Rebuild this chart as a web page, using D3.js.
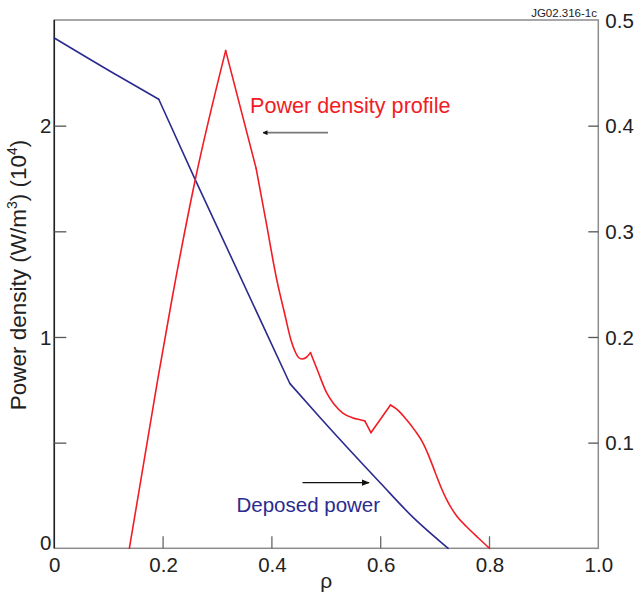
<!DOCTYPE html>
<html lang="en">
<head>
  <meta charset="UTF-8">
  <script src="https://cdn.jsdelivr.net/npm/d3@7"></script>
  <title>Power density profile</title>
  <style>
    body { margin: 0; background: #fff; }
    text { font-family: "Liberation Sans", Arial, Helvetica, sans-serif; }
  </style>
</head>
<body>
  <svg width="637" height="606" id="chart"></svg>
  <script>
    // red curve: power density profile (left axis, 10^4 W/m3)
    let rhoRed = [0.138, 0.190, 0.216, 0.259, 0.315, 0.371, 0.389, 0.409, 0.424, 0.435, 0.443, 0.449, 0.455, 0.463, 0.471,
      0.485, 0.501, 0.514, 0.531, 0.549, 0.568, 0.571, 0.582, 0.618, 0.632, 0.648, 0.663, 0.678, 0.688, 0.700, 0.711, 0.721,
      0.730, 0.740, 0.758, 0.779, 0.800];
    let densityRed = [0, 0.797, 1.175, 1.743, 2.355, 1.798, 1.549, 1.270, 1.104, 0.986, 0.929, 0.903, 0.896, 0.903, 0.926,
      0.834, 0.734, 0.683, 0.639, 0.617, 0.605, 0.602, 0.547, 0.678, 0.653, 0.607, 0.557, 0.497, 0.440, 0.360, 0.288, 0.232,
      0.190, 0.152, 0.102, 0.050, 0];
    // sharp corners of the red curve
    let redCorners = [0.315, 0.371, 0.471, 0.571, 0.582, 0.618];

    // blue curve: deposed power (right axis)
    let rhoBlue = [0, 0.121, 0.192, 0.259, 0.433, 0.488, 0.599, 0.660, 0.724];
    let powerBlue = [0.483, 0.446, 0.425, 0.349, 0.156, 0.124, 0.062, 0.029, 0];
    let blueCorners = [0.192, 0.433];

    let xTicks = [0, 0.2, 0.4, 0.6, 0.8, 1.0];
    let leftTicks = [0, 0.5, 1, 1.5, 2];
    let leftLabels = [0, 1, 2];
    let rightTicks = [0.1, 0.2, 0.3, 0.4, 0.5];

    let svg = d3.select("#chart");
    let mLeft = 54.3, mRight = 598.3, mTop = 20, mBottom = 548.3;

    let scaleX = d3.scaleLinear().domain([0, 1]).range([mLeft, mRight]);
    let scaleY = d3.scaleLinear().domain([0, 2.5]).range([mBottom, mTop]);
    let scaleY2 = d3.scaleLinear().domain([0, 0.5]).range([mBottom, mTop]);

    /* FRAME */
    svg.append("rect")
      .attr("x", mLeft).attr("y", mTop)
      .attr("width", mRight - mLeft).attr("height", mBottom - mTop)
      .attr("fill", "none").attr("stroke", "#8c8c8c").attr("stroke-width", 1.5)
    svg.append("line")
      .attr("x1", mLeft).attr("x2", mLeft).attr("y1", mTop).attr("y2", mBottom)
      .attr("stroke", "#222").attr("stroke-width", 1.5)

    /* AXES */
    let axisB = d3.axisBottom(scaleX).tickValues(xTicks).tickSize(0).tickPadding(10)
      .tickFormat(d => d === 0 ? "0" : d3.format(".1f")(d))
    let gB = svg.append("g").attr("transform", `translate(0,${mBottom})`).call(axisB)
    gB.select(".domain").remove()
    gB.selectAll("text").attr("font-size", 20.5).attr("fill", "#222").attr("y", 9).attr("dy", "0.71em")

    // inward tick marks on the bottom
    svg.selectAll(".xtick").data(xTicks.filter(d => d > 0 && d < 1)).enter()
      .append("line")
      .attr("x1", d => scaleX(d)).attr("x2", d => scaleX(d))
      .attr("y1", mBottom).attr("y2", mBottom - 12)
      .attr("stroke", "#666").attr("stroke-width", 1.3)

    let axisL = d3.axisLeft(scaleY).tickValues(leftTicks).tickSize(-12).tickPadding(15)
      .tickFormat(d => leftLabels.includes(d) ? d : "")
    let gL = svg.append("g").attr("transform", `translate(${mLeft},0)`).call(axisL)
    gL.select(".domain").remove()
    gL.selectAll(".tick line").attr("stroke", "#555").attr("stroke-width", 1.3)
      .filter(d => d === 0).remove()
    gL.selectAll("text").attr("font-size", 20.5).attr("fill", "#222").attr("x", -3)
      .attr("dy", d => d === 0 ? "0.05em" : "0.35em")

    let axisR = d3.axisRight(scaleY2).tickValues(rightTicks).tickSize(-10).tickPadding(8)
      .tickFormat(d3.format(".1f"))
    let gR = svg.append("g").attr("transform", `translate(${mRight},0)`).call(axisR)
    gR.select(".domain").remove()
    gR.selectAll(".tick line").attr("stroke", "#555").attr("stroke-width", 1.3)
      .filter(d => d === 0.5).remove()
    gR.selectAll("text").attr("font-size", 20.5).attr("fill", "#222").attr("x", 7).attr("dy", "0.35em")

    /* LABELS */
    svg.append("text")
      .attr("x", (mLeft + mRight) / 2).attr("y", 588)
      .attr("text-anchor", "middle").attr("font-size", 21).attr("fill", "#222")
      .text("ρ")

    let yLab = svg.append("text")
      .attr("transform", "translate(26,275) rotate(-90)")
      .attr("text-anchor", "middle").attr("font-size", 22.5).attr("fill", "#222")
    yLab.append("tspan").text("Power density (W/m")
    yLab.append("tspan").text("3").attr("font-size", 14).attr("dy", -9)
    yLab.append("tspan").text(") (10").attr("dy", 9)
    yLab.append("tspan").text("4").attr("font-size", 14).attr("dy", -9)
    yLab.append("tspan").text(")").attr("dy", 9)

    svg.append("text")
      .attr("x", 597).attr("y", 17)
      .attr("text-anchor", "end").attr("font-size", 11.5).attr("fill", "#222")
      .text("JG02.316-1c")

    /* CURVES */
    // split a curve at its sharp corners, each piece is drawn smooth and monotone
    function pieces(xs, ys, corners) {
      let out = [[]];
      xs.forEach((x, i) => {
        out[out.length - 1].push([x, ys[i]]);
        if (corners.includes(x)) out.push([[x, ys[i]]]);
      });
      return out.filter(p => p.length > 1);
    }

    let lineRed = d3.line().curve(d3.curveMonotoneX).x(d => scaleX(d[0])).y(d => scaleY(d[1]));
    let lineBlue = d3.line().curve(d3.curveMonotoneX).x(d => scaleX(d[0])).y(d => scaleY2(d[1]));

    svg.selectAll(".blue").data(pieces(rhoBlue, powerBlue, blueCorners)).enter()
      .append("path").attr("class", "blue")
      .attr("fill", "none").attr("stroke", "#2b2b8f").attr("stroke-width", 1.6)
      .attr("stroke-linecap", "round")
      .attr("d", lineBlue)

    svg.selectAll(".red").data(pieces(rhoRed, densityRed, redCorners)).enter()
      .append("path").attr("class", "red")
      .attr("fill", "none").attr("stroke", "#f21c24").attr("stroke-width", 1.6)
      .attr("stroke-linecap", "round")
      .attr("d", lineRed)

    /* ANNOTATIONS */
    let defs = svg.append("defs")
    defs.append("marker")
      .attr("id", "head").attr("viewBox", "0 0 10 10")
      .attr("refX", 9).attr("refY", 5)
      .attr("markerWidth", 5).attr("markerHeight", 5).attr("markerUnits", "userSpaceOnUse")
      .attr("orient", "auto")
      .append("path").attr("d", "M0,0 L10,5 L0,10 z").attr("fill", "#111")
    defs.append("marker")
      .attr("id", "head2").attr("viewBox", "0 0 10 10")
      .attr("refX", 9).attr("refY", 5)
      .attr("markerWidth", 8).attr("markerHeight", 8).attr("markerUnits", "userSpaceOnUse")
      .attr("orient", "auto")
      .append("path").attr("d", "M0,1 L10,5 L0,9 z").attr("fill", "#111")

    svg.append("text")
      .attr("x", 250).attr("y", 113)
      .attr("font-size", 21.6).attr("fill", "#f21c24")
      .text("Power density profile")
    svg.append("line")
      .attr("x1", 328).attr("x2", 263).attr("y1", 132.7).attr("y2", 132.7)
      .attr("stroke", "#777").attr("stroke-width", 1.8)
      .attr("marker-end", "url(#head)")

    svg.append("text")
      .attr("x", 236.5).attr("y", 511.5)
      .attr("font-size", 20.5).attr("fill", "#2b2b8f")
      .text("Deposed power")
    svg.append("line")
      .attr("x1", 302.5).attr("x2", 369).attr("y1", 482.7).attr("y2", 482.7)
      .attr("stroke", "#111").attr("stroke-width", 1.2)
      .attr("marker-end", "url(#head2)")
  </script>
</body>
</html>
